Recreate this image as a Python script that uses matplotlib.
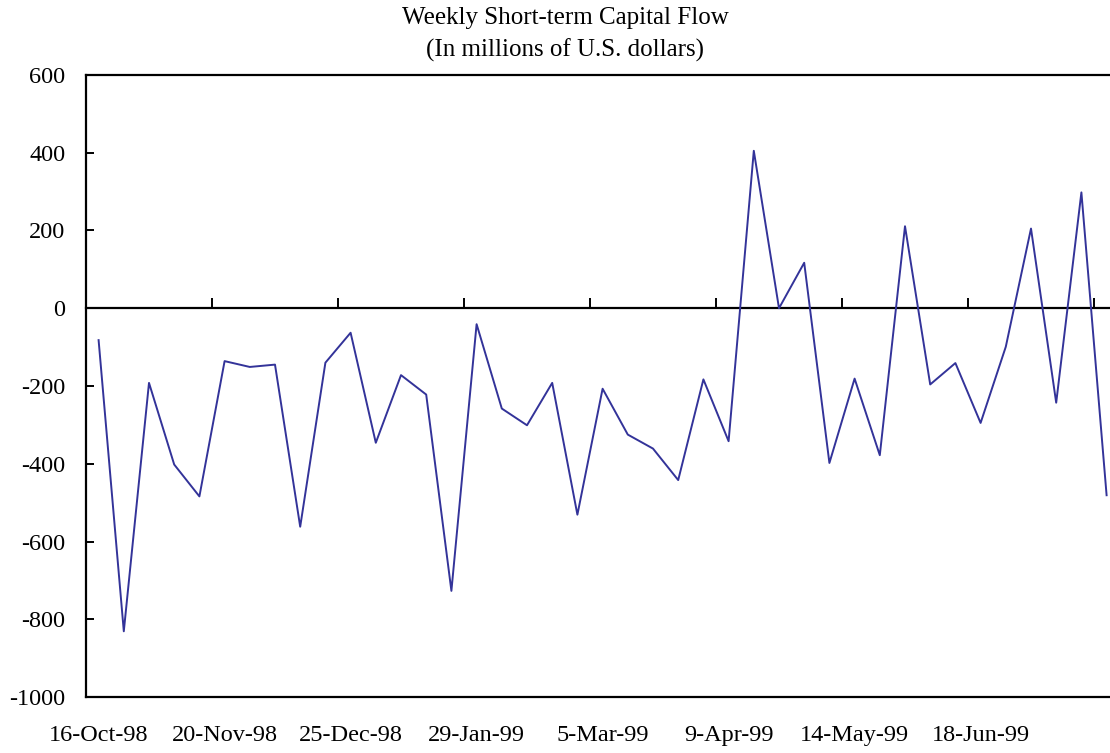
import matplotlib
matplotlib.use("Agg")
import matplotlib.pyplot as plt
import numpy as np

title_line1 = "Weekly Short-term Capital Flow"
title_line2 = "(In millions of U.S. dollars)"

tick_labels = ["16-Oct-98", "20-Nov-98", "25-Dec-98", "29-Jan-99",
               "5-Mar-99", "9-Apr-99", "14-May-99", "18-Jun-99"]
label_step = 5

flow = [-82, -831, -192, -402, -484, -136, -151, -145, -562, -140,
        -63, -346, -172, -222, -727, -41, -258, -301, -192, -531,
        -207, -325, -361, -442, -183, -342, 405, 0, 117, -398,
        -181, -378, 211, -196, -141, -295, -99, 205, -243, 298, -481]

y_ticks = [-1000, -800, -600, -400, -200, 0, 200, 400, 600]

plt.rcParams['font.family'] = ['Liberation Serif', 'DejaVu Serif']

fig = plt.figure(figsize=(11.10, 7.53), dpi=100)
n = len(flow)
left_px, right_px = 86, 86 + n * 25.2
top_px, bottom_px = 75, 697
W, H = 1110, 753
ax = fig.add_axes([left_px / W, 1 - bottom_px / H,
                   (right_px - left_px) / W, (bottom_px - top_px) / H])

x = np.arange(n)
ax.plot(x, flow, color='#333399', lw=1.4, clip_on=False)
ax.set_xlim(-0.5, n - 0.5)
ax.set_ylim(-1000, 600)

ax.set_yticks(y_ticks)
ax.set_yticklabels([str(v) for v in y_ticks])
ax.tick_params(axis='y', direction='in', length=6, width=1.4, pad=15,
               labelsize=17.5)

ax.set_xticks(x[::label_step][:len(tick_labels)])
ax.set_xticklabels(tick_labels)
ax.tick_params(axis='x', length=0, pad=20, labelsize=17.5)

for s in ['left', 'top', 'bottom', 'right']:
    ax.spines[s].set_linewidth(1.6)
ax.spines['right'].set_visible(False)

# zero line with category boundary ticks pointing upward
sec = ax.secondary_xaxis(0, transform=ax.transData)
sec.set_xticks(np.arange(label_step - 0.5, n - 0.5, label_step))
sec.tick_params(direction='in', length=7, width=1.4, labelbottom=False,
                labeltop=False)
sec.spines['top'].set_linewidth(1.6)
sec.spines['bottom'].set_linewidth(1.6)

fig.text(565 / W, 1 - 18 / H, title_line1, ha='center', va='center', fontsize=18)
fig.text(565 / W, 1 - 50 / H, title_line2, ha='center', va='center', fontsize=18)

fig.savefig("out.png", dpi=100)
